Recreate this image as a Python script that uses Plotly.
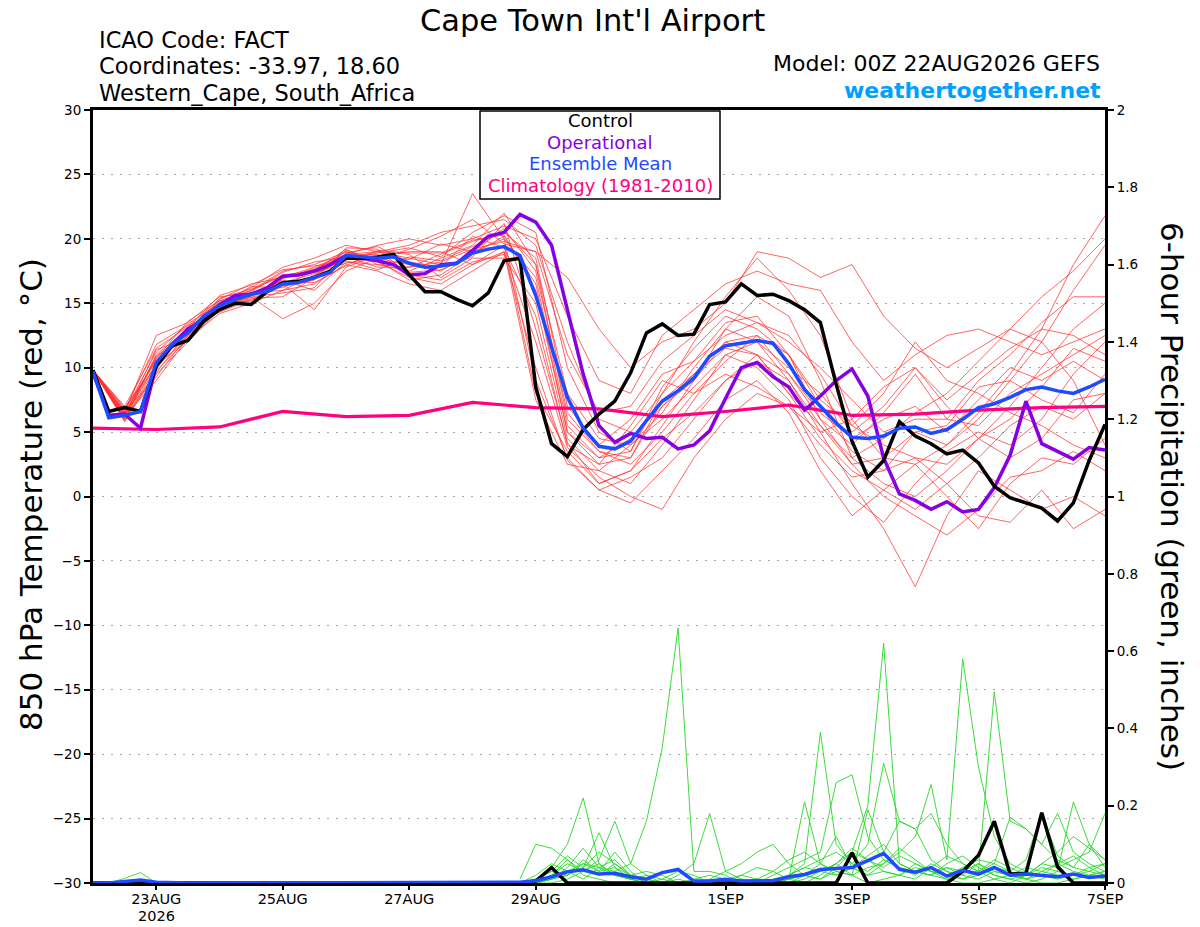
import plotly.graph_objects as go

# ---------------- data ----------------
HOURS_6H = list(range(0, 385, 6))        # forecast hours from 00Z 22AUG2026
HOURS_12H = list(range(0, 385, 12))
CLIM_HOURS = list(range(0, 385, 24))
PRECIP_START_H = 162

TICK_HOURS = [24, 72, 120, 168, 240, 288, 336, 384]
TICK_LABELS = ["23AUG", "25AUG", "27AUG", "29AUG", "1SEP", "3SEP", "5SEP", "7SEP"]
YEAR_LABEL = "2026"
YEAR_LABEL_HOUR = 24

CONTROL_T = [9.8, 6.6, 6.9, 6.6, 10.1, 11.7, 12.1, 13.6, 14.5, 15.0,
             14.9, 15.9, 16.6, 16.7, 17.0, 17.5, 18.5, 18.5, 18.6, 18.8,
             17.2, 15.9, 15.9, 15.3, 14.8, 15.8, 18.3, 18.5, 8.5, 4.1,
             3.1, 5.2, 6.4, 7.4, 9.6, 12.7, 13.4, 12.5, 12.6, 14.9,
             15.1, 16.5, 15.6, 15.7, 15.2, 14.5, 13.5, 8.7, 4.3, 1.5,
             2.8, 5.8, 4.7, 4.1, 3.3, 3.6, 2.6, 0.8, -0.1, -0.5,
             -0.9, -1.9, -0.5, 2.8, 5.6]

OPER_T = [9.6, 6.3, 6.4, 5.3, 10.2, 11.8, 13.0, 13.7, 14.9, 15.6,
          15.7, 16.2, 17.1, 17.2, 17.5, 18.0, 18.7, 18.5, 18.3, 18.0,
          17.2, 17.3, 18.0, 18.1, 19.1, 20.2, 20.5, 21.9, 21.3, 19.5,
          14.5, 9.5, 5.5, 4.2, 4.9, 4.5, 4.6, 3.7, 4.0, 5.1,
          7.6, 10.0, 10.4, 9.3, 8.5, 6.7, 7.8, 9.0, 9.9, 7.8,
          3.0, 0.2, -0.3, -1.0, -0.4, -1.2, -1.0, 0.7, 3.2, 7.4,
          4.1, 3.5, 2.9, 3.8, 3.6]

MEAN_T = [9.7, 6.1, 6.3, 6.6, 10.4, 11.8, 12.7, 14.0, 14.8, 15.3,
          15.7, 15.9, 16.5, 16.6, 17.0, 17.4, 18.7, 18.6, 18.5, 18.6,
          18.1, 17.8, 17.9, 18.1, 18.9, 19.2, 19.4, 18.7, 15.6, 11.6,
          7.7, 5.3, 3.9, 3.7, 4.3, 5.9, 7.4, 8.2, 9.2, 10.9,
          11.7, 11.9, 12.1, 11.9, 10.3, 8.3, 7.0, 5.7, 4.6, 4.5,
          4.7, 5.3, 5.4, 4.9, 5.2, 6.0, 6.9, 7.2, 7.7, 8.3,
          8.5, 8.2, 8.0, 8.5, 9.1]

CLIM_T = [5.3, 5.2, 5.4, 6.6, 6.2, 6.3, 7.3, 6.9, 6.8, 6.2, 6.6, 7.1, 6.3, 6.4, 6.7, 6.9, 7.0]

# ensemble members, 12-hourly (h0 ... h384)
MEMBERS_T = [
    [9.8, 6.0, 11.0, 13.0, 15.2, 16.0, 17.5, 18.0, 19.0, 18.2, 17.0, 16.5, 18.0, 19.5, 8.0, 3.5, 1.0,
     2.0, 5.5, 9.0, 13.0, 15.5, 14.0, 9.0, 3.0, 1.0, 0.0, 2.0, 4.5, 7.0, 10.0, 13.0, 15.0],
    [9.8, 6.5, 12.5, 13.5, 15.5, 15.8, 16.0, 17.2, 18.5, 19.0, 19.5, 20.5, 21.0, 21.5, 19.5, 12.0, 6.0,
     5.0, 8.0, 12.0, 15.5, 18.5, 16.0, 12.5, 6.0, 3.0, 2.5, 4.0, 6.0, 9.0, 12.0, 16.0, 19.5],
    [9.8, 5.9, 9.5, 12.0, 14.5, 15.5, 13.8, 15.0, 17.5, 18.5, 18.0, 17.5, 19.0, 20.0, 9.0, 3.0, 0.5,
     1.5, 3.0, 6.0, 9.0, 11.0, 8.0, 4.5, 2.0, 0.5, -1.0, 1.0, 3.0, 5.5, 7.0, 6.0, 8.0],
    [9.8, 6.8, 10.5, 12.8, 15.0, 16.2, 17.8, 18.5, 19.5, 19.0, 18.5, 18.0, 23.5, 20.0, 17.0, 5.5, 3.0,
     3.5, 8.5, 11.5, 14.0, 13.0, 11.0, 7.5, 5.5, 8.0, 12.0, 9.0, 8.0, 6.5, 5.5, 4.0, 3.0],
    [9.8, 6.2, 9.0, 12.3, 14.2, 15.0, 16.0, 16.5, 18.0, 17.5, 16.5, 16.0, 17.5, 19.0, 7.5, 2.5, 2.0,
     4.0, 6.0, 8.5, 11.0, 12.0, 9.0, 5.0, 1.0, -2.5, -7.0, -1.5, 2.0, 0.5, -1.0, 0.0, -1.5],
    [9.8, 7.0, 11.5, 13.2, 15.3, 16.5, 17.0, 17.8, 18.8, 19.5, 20.0, 19.5, 20.0, 21.0, 20.0, 14.0, 9.0,
     8.0, 12.5, 14.5, 16.5, 17.5, 16.5, 16.0, 12.0, 9.0, 11.0, 12.5, 13.0, 12.0, 11.0, 12.0, 13.0],
    [9.8, 6.0, 10.0, 12.5, 14.7, 15.6, 16.8, 16.0, 18.2, 18.0, 17.5, 18.5, 19.5, 22.0, 18.0, 6.0, 3.5,
     2.5, 5.0, 8.0, 10.5, 12.5, 11.0, 6.0, 2.5, 3.0, 5.0, 4.0, 6.5, 9.5, 13.0, 18.0, 21.8],
    [9.8, 6.4, 10.8, 12.6, 14.4, 15.4, 15.5, 17.0, 18.8, 19.0, 18.8, 17.0, 18.5, 18.5, 15.0, 4.5, 2.0,
     1.0, 4.0, 7.5, 11.0, 10.0, 7.5, 3.0, 0.0, -2.0, 1.0, 3.5, 5.0, 4.0, 6.0, 9.5, 12.0],
    [9.8, 5.8, 9.8, 12.2, 14.8, 16.0, 17.2, 17.5, 19.2, 18.0, 17.8, 18.8, 19.8, 20.5, 18.5, 7.0, 4.0,
     6.0, 9.5, 10.5, 12.5, 13.5, 12.0, 10.0, 7.5, 5.0, 6.0, 6.0, 9.0, 11.0, 13.5, 15.5, 15.5],
    [9.8, 6.6, 11.2, 13.4, 15.0, 15.2, 16.5, 14.5, 17.8, 18.7, 19.0, 19.0, 18.0, 19.0, 12.0, 3.8, 1.5,
     0.0, -1.0, 3.0, 6.0, 8.0, 7.0, 4.0, 1.5, 2.0, 3.0, 1.0, -1.5, -2.0, 0.5, -2.5, -1.0],
    [9.8, 6.2, 10.2, 12.9, 14.9, 16.3, 16.2, 17.6, 19.0, 18.3, 16.8, 17.2, 18.8, 20.2, 16.5, 5.0, 3.0,
     4.5, 7.0, 9.0, 12.0, 12.5, 9.5, 6.5, 4.5, 6.0, 7.0, 5.0, 7.5, 10.0, 9.0, 10.5, 9.0],
    [9.8, 6.5, 10.6, 12.4, 14.6, 15.9, 17.4, 18.2, 18.6, 17.8, 17.8, 18.2, 19.2, 19.8, 19.0, 17.0, 13.0,
     10.0, 12.0, 13.0, 15.0, 19.0, 18.5, 17.0, 18.0, 14.0, 11.5, 10.0, 11.5, 13.0, 15.5, 17.5, 20.0],
    [9.8, 6.1, 9.6, 12.8, 15.1, 15.7, 16.6, 17.3, 18.4, 18.9, 19.3, 18.6, 20.5, 21.8, 20.5, 10.0, 5.0,
     3.5, 8.0, 10.5, 13.5, 14.0, 11.0, 7.0, 3.5, 2.0, 5.0, 5.5, 8.5, 9.0, 7.5, 6.5, 9.5],
    [9.8, 6.7, 11.8, 13.3, 14.3, 15.3, 16.3, 16.8, 19.3, 19.2, 17.2, 16.8, 18.2, 18.8, 10.0, 2.8, 0.5,
     -0.5, 2.0, 4.5, 7.5, 9.0, 6.5, 2.0, -1.5, 0.5, 2.5, 0.0, -2.5, 1.0, 3.0, 2.5, 4.5],
    [9.8, 6.3, 10.3, 12.1, 15.4, 16.1, 17.1, 17.4, 18.1, 18.6, 18.4, 19.6, 19.0, 20.8, 17.5, 6.5, 3.5,
     3.0, 7.5, 9.5, 11.5, 11.0, 8.0, 5.5, 3.0, 4.5, 6.5, 8.0, 10.5, 13.0, 12.0, 9.0, 4.0],
    [9.8, 6.0, 10.9, 12.7, 14.8, 15.5, 15.8, 16.2, 18.9, 19.4, 18.2, 17.8, 20.2, 19.3, 14.0, 4.0, 2.5,
     5.5, 9.0, 8.0, 9.5, 8.5, 7.0, 5.0, 6.0, 8.5, 10.0, 7.0, 4.5, 3.0, 4.5, 7.5, 8.0],
    [9.8, 6.9, 10.1, 13.1, 15.6, 16.4, 17.6, 17.9, 18.3, 17.6, 18.6, 18.3, 19.4, 20.6, 18.0, 8.0, 4.5,
     4.0, 6.5, 10.0, 13.0, 12.0, 10.0, 8.0, 5.0, 7.0, 10.0, 7.5, 9.5, 11.5, 13.0, 12.5, 11.0],
    [9.8, 6.2, 11.4, 12.3, 14.5, 15.6, 16.4, 17.1, 19.1, 18.4, 19.2, 20.2, 21.5, 19.6, 19.0, 11.0, 6.5,
     7.0, 10.5, 12.5, 14.5, 13.5, 12.5, 9.5, 5.5, 4.0, 3.0, 2.5, 4.5, 6.0, 8.5, 11.5, 10.5],
    [9.8, 6.4, 10.7, 13.6, 15.2, 15.1, 16.9, 17.7, 18.7, 18.8, 17.4, 17.6, 18.6, 21.2, 13.0, 4.2, 1.0,
     2.0, 4.5, 6.5, 9.0, 10.5, 9.0, 5.5, 2.5, 0.0, -1.5, -3.0, -1.0, 1.5, 2.0, 3.5, 2.0],
    [9.8, 6.6, 9.3, 12.5, 14.9, 15.8, 16.7, 16.6, 17.9, 19.1, 18.9, 18.9, 19.9, 20.3, 16.0, 5.0, 2.5,
     3.0, 7.0, 9.5, 12.0, 11.0, 9.5, 6.0, 4.0, 6.5, 9.5, 6.0, 5.5, 8.0, 9.5, 11.0, 12.5],
]

PRECIP_CONTROL = [0, 0, 0, 0, 0, 0, 0, 0, 0, 0,
                  0, 0, 0, 0, 0, 0, 0, 0, 0, 0,
                  0, 0, 0, 0, 0, 0, 0, 0, 0.005, 0.04,
                  0, 0, 0, 0, 0, 0, 0, 0, 0, 0,
                  0, 0, 0, 0, 0, 0, 0, 0, 0.078, 0,
                  0, 0, 0, 0, 0, 0.03, 0.072, 0.16, 0.023, 0.025,
                  0.182, 0.042, 0, 0, 0]

PRECIP_MEAN = [0, 0, 0.004, 0.008, 0.002, 0, 0, 0, 0, 0,
               0, 0, 0, 0, 0, 0, 0, 0, 0, 0,
               0, 0, 0, 0, 0, 0, 0, 0.002, 0.006, 0.016,
               0.029, 0.034, 0.023, 0.025, 0.016, 0.01, 0.027, 0.035, 0.005, 0.005,
               0.01, 0.005, 0.006, 0.006, 0.016, 0.022, 0.035, 0.037, 0.04, 0.058,
               0.077, 0.035, 0.028, 0.04, 0.018, 0.033, 0.023, 0.04, 0.02, 0.023,
               0.02, 0.016, 0.023, 0.014, 0.018]

PRECIP_EARLY_START_H = 6
PRECIP_EARLY = [0, 0.012, 0.027, 0.0]

# ensemble precipitation members, 6-hourly from h162
PRECIP_MEMBERS = [
    [0, 0, .02, .03, .05, .04, .03, .05, .16, .35,
     .66, .03, .03, .02, 0, 0, 0, .01, .02, .03,
     .05, .02, 0, .01, .02, .04, .03, .01, 0, 0,
     .01, .02, .01, 0, 0, .01, .02, .03],
    [0, .01, .04, .10, .22, .05, .02, .01, 0, 0,
     .01, 0, 0, 0, 0, .01, .03, .06, .08, .05,
     .12, .04, .02, .05, .09, .06, .03, .02, .01, .03,
     .06, .04, .02, .05, .08, .12, .09, .06],
    [.01, .10, .09, .06, .02, .01, 0, 0, 0, 0,
     0, 0, .01, .03, .05, .08, .10, .05, .02, .01,
     .04, .08, .06, .03, .02, .01, .04, .07, .05, .03,
     .01, 0, .02, .04, .03, .02, .04, .05],
    [0, 0, .02, .05, .03, .06, .16, .05, .02, .01,
     0, 0, 0, 0, .01, 0, 0, .01, .21, .05,
     .02, .04, .07, .10, .05, .03, .02, .01, .03, .05,
     .02, .01, 0, .01, .03, .21, .10, .06],
    [0, .01, .03, .07, .04, .13, .04, .02, .01, 0,
     0, .01, .02, .01, 0, 0, 0, .02, .05, .39,
     .10, .05, .03, .06, .04, .02, .05, .03, .01, .02,
     .04, .03, .01, .02, .05, .03, .02, .01],
    [0, 0, .01, .02, .06, .03, .08, .03, 0, 0,
     .02, .05, .18, .03, .01, 0, .02, .04, .06, .08,
     .26, .28, .12, .06, .04, .03, .02, .05, .07, .04,
     .02, .01, .02, .05, .04, .06, .08, .18],
    [0, .02, .05, .03, .01, .04, .06, .02, 0, 0,
     0, 0, 0, 0, .02, .04, .03, .01, 0, .02,
     .05, .08, .20, .62, .05, .03, .02, .04, .02, .01,
     .03, .02, .04, .03, .02, .01, .02, .03],
    [0, 0, .01, .04, .09, .04, .02, .01, 0, 0,
     0, 0, 0, .01, 0, 0, .01, .02, .04, .06,
     .08, .05, .10, .31, .16, .14, .18, .10, .05, .03,
     .05, .17, .14, .10, .06, .04, .03, .02],
    [0, 0, .02, .06, .03, .02, .05, .02, .03, .02,
     0, 0, 0, 0, 0, 0, 0, .01, .02, .01,
     .03, .02, .04, .05, .08, .12, .255, .06, .58, .30,
     .12, .05, .03, .02, .01, .02, .03, .05],
    [0, .01, .03, .02, .05, .03, .04, .01, 0, .01,
     .03, .02, 0, 0, 0, .01, 0, 0, .01, .03,
     .02, .04, .02, .03, .02, .05, .03, .04, .03, .03,
     .495, .16, .14, .10, .18, .08, .05, .03],
    [0, 0, 0, .01, .03, .05, .02, .01, .02, 0,
     0, 0, 0, .01, .02, .01, 0, .02, .04, .03,
     .05, .09, .06, .04, .07, .05, .03, .02, .04, .06,
     .05, .03, .06, .18, .07, .04, .10, .04],
    [0, 0, .01, .02, .04, .08, .05, .02, .01, 0,
     0, 0, 0, 0, 0, 0, 0, 0, .02, .05,
     .03, .02, .19, .08, .16, .14, .06, .03, .02, .05,
     .03, .02, .01, .03, .05, .07, .04, .02],
]

# ---------------- styling ----------------
# plot-area corners in screenshot pixels (page body margin removed below)
PX_L, PX_R, PX_T, PX_B = 93, 1105, 110, 883
W, H = 1200, 927
FONT = "DejaVu Sans, Verdana, sans-serif"
RED = "rgba(255,50,50,0.75)"
GREEN = "rgba(40,215,40,0.9)"
PURPLE = "rgb(135,0,225)"
BLUE = "rgb(30,75,255)"
PINK = "rgb(255,0,128)"
WEB_BLUE = "rgb(0,160,255)"


def px_x(px):
    return (px - PX_L) / (PX_R - PX_L)


def px_y(py):
    return (PX_B - py) / (PX_B - PX_T)


fig = go.Figure()

for m in MEMBERS_T:
    fig.add_trace(go.Scatter(x=HOURS_12H, y=m, mode="lines",
                             line=dict(color=RED, width=1), hoverinfo="skip"))

fig.add_trace(go.Scatter(x=CLIM_HOURS, y=CLIM_T, mode="lines",
                         line=dict(color=PINK, width=3.2), hoverinfo="skip"))
fig.add_trace(go.Scatter(x=HOURS_6H, y=OPER_T, mode="lines",
                         line=dict(color=PURPLE, width=3.5), hoverinfo="skip"))
fig.add_trace(go.Scatter(x=HOURS_6H, y=CONTROL_T, mode="lines",
                         line=dict(color="black", width=3.5), hoverinfo="skip"))
fig.add_trace(go.Scatter(x=HOURS_6H, y=MEAN_T, mode="lines",
                         line=dict(color=BLUE, width=3.5), hoverinfo="skip"))

# precipitation on the right axis
for m in PRECIP_MEMBERS:
    hrs = [PRECIP_START_H + 6 * i for i in range(len(m))]
    fig.add_trace(go.Scatter(x=hrs, y=m, mode="lines", yaxis="y2",
                             line=dict(color=GREEN, width=1), hoverinfo="skip"))
fig.add_trace(go.Scatter(x=[PRECIP_EARLY_START_H + 6 * i for i in range(len(PRECIP_EARLY))],
                         y=PRECIP_EARLY, mode="lines", yaxis="y2",
                         line=dict(color=GREEN, width=1), hoverinfo="skip"))
fig.add_trace(go.Scatter(x=HOURS_6H, y=PRECIP_CONTROL, mode="lines", yaxis="y2",
                         line=dict(color="black", width=3.5), hoverinfo="skip"))
fig.add_trace(go.Scatter(x=HOURS_6H, y=PRECIP_MEAN, mode="lines", yaxis="y2",
                         line=dict(color=BLUE, width=3.5), hoverinfo="skip"))

fig.update_layout(
    width=W, height=H,
    margin=dict(l=PX_L, r=W - PX_R, t=PX_T, b=H - PX_B, pad=0, autoexpand=False),
    paper_bgcolor="white", plot_bgcolor="white",
    showlegend=False,
    font=dict(family=FONT, color="black"),
    xaxis=dict(range=[0, 384], tickvals=TICK_HOURS, ticktext=TICK_LABELS,
               ticks="outside", ticklen=4, tickwidth=1.5, tickcolor="black",
               showgrid=False, zeroline=False, showline=True, linecolor="black",
               linewidth=3, mirror=True, automargin=False, ticklabelstandoff=-3,
               tickfont=dict(size=14.5, family=FONT)),
    yaxis=dict(range=[-30, 30], tickvals=list(range(-30, 31, 5)),
               ticks="outside", ticklen=6, tickwidth=1.5, tickcolor="black",
               showgrid=True, gridcolor="#a8a8a8", gridwidth=1.3, griddash="2px,7px",
               zeroline=False, showline=True, linecolor="black", linewidth=3,
               mirror=True, automargin=False, tickfont=dict(size=13.5, family=FONT)),
    yaxis2=dict(range=[0, 2], overlaying="y", side="right", dtick=0.2, tick0=0,
                ticks="outside", ticklen=6, tickwidth=1.5, tickcolor="black",
                showgrid=False, zeroline=False, showline=True, linecolor="black",
                linewidth=3, automargin=False, tickfont=dict(size=13.5, family=FONT)),
)

# second line of the first date label
fig.add_annotation(xref="x", yref="paper", x=YEAR_LABEL_HOUR, y=px_y(916),
                   text=YEAR_LABEL, showarrow=False, xanchor="center", yanchor="middle",
                   font=dict(size=14.5, family=FONT))

# legend box
fig.add_shape(type="rect", xref="paper", yref="paper",
              x0=px_x(480), x1=px_x(720), y0=px_y(199), y1=px_y(111),
              fillcolor="white", line=dict(color="black", width=1.5), layer="above")

legend_items = [("Control", "black", 121), ("Operational", PURPLE, 142),
                ("Ensemble Mean", BLUE, 163.5), ("Climatology (1981-2010)", PINK, 185.5)]
for txt, col, py in legend_items:
    fig.add_annotation(xref="paper", yref="paper", x=px_x(600), y=px_y(py),
                       text=txt, showarrow=False, xanchor="center", yanchor="middle",
                       font=dict(size=18, color=col, family=FONT))

# header texts
fig.add_annotation(xref="paper", yref="paper", x=px_x(592), y=px_y(20),
                   text="Cape Town Int'l Airport", showarrow=False,
                   xanchor="center", yanchor="middle", font=dict(size=30.5, family=FONT))
for txt, py in [("ICAO Code: FACT", 40), ("Coordinates: -33.97, 18.60", 66),
                ("Western_Cape, South_Africa", 93)]:
    fig.add_annotation(xref="paper", yref="paper", x=px_x(97), y=px_y(py), text=txt,
                       showarrow=False, xanchor="left", yanchor="middle",
                       font=dict(size=22.5, family=FONT))
fig.add_annotation(xref="paper", yref="paper", x=px_x(1102), y=px_y(63),
                   text="Model: 00Z 22AUG2026 GEFS", showarrow=False,
                   xanchor="right", yanchor="middle", font=dict(size=22, family=FONT))
fig.add_annotation(xref="paper", yref="paper", x=px_x(1103), y=px_y(90),
                   text="<b>weathertogether.net</b>", showarrow=False,
                   xanchor="right", yanchor="middle",
                   font=dict(size=22, color=WEB_BLUE, family=FONT))

# axis titles
fig.add_annotation(xref="paper", yref="paper", x=px_x(31), y=px_y(495),
                   text="850 hPa Temperature (red, °C)", showarrow=False, textangle=-90,
                   xanchor="center", yanchor="middle", font=dict(size=31, family=FONT))
fig.add_annotation(xref="paper", yref="paper", x=px_x(1172), y=px_y(496),
                   text="6-hour Precipitation (green, inches)", showarrow=False, textangle=90,
                   xanchor="center", yanchor="middle", font=dict(size=31, family=FONT))

# remove the default 8 px page margin so the figure sits at the window's corner
fig.write_html("out.html", config={"displayModeBar": False},
               post_script="document.body.style.margin='0';")
